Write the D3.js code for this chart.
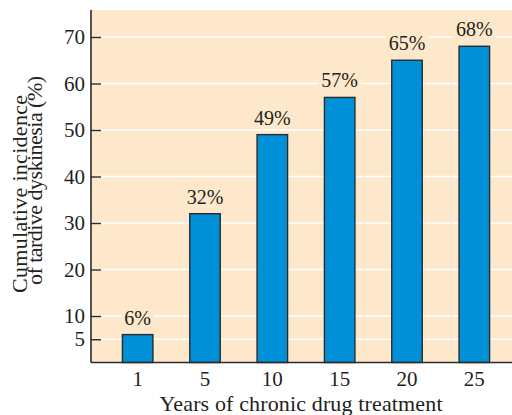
<!DOCTYPE html>
<html>
<head>
<meta charset="utf-8">
<script src="https://cdn.jsdelivr.net/npm/d3@7"></script>
<style>
  html, body { margin: 0; padding: 0; background: #ffffff; }
  svg { display: block; }
  text { font-family: "Liberation Serif", "Times New Roman", serif; fill: #231f20; }
</style>
</head>
<body>
<svg id="chart" width="512" height="415"></svg>
<script>
// Years of treatment and cumulative incidence of tardive dyskinesia (%)
const years = ["1", "5", "10", "15", "20", "25"];
const incidence = [6, 32, 49, 57, 65, 68];
const yTicks = [5, 10, 20, 30, 40, 50, 60, 70];
const xTitle = "Years of chronic drug treatment";
const yTitleLines = ["Cumulative incidence", "of tardive dyskinesia (%)"];

const plot = { left: 91, right: 512, top: 10, bottom: 362.5 };
const ink = "#231f20";
const panel = "#fde8cc";

const svg = d3.select("#chart");

const x = d3.scaleBand()
  .domain(years)
  .range([104, 508])
  .paddingInner(0.547)
  .paddingOuter(0.2735);

const y = d3.scaleLinear()
  .domain([0, 75.8])
  .range([plot.bottom, plot.top]);

// panel background
svg.append("rect")
  .attr("x", plot.left).attr("y", plot.top)
  .attr("width", plot.right - plot.left)
  .attr("height", plot.bottom - plot.top)
  .attr("fill", panel);

// white gridlines
svg.append("g").selectAll("line")
  .data(yTicks)
  .join("line")
  .attr("x1", plot.left).attr("x2", plot.right)
  .attr("y1", d => y(d)).attr("y2", d => y(d))
  .attr("stroke", "#ffffff")
  .attr("stroke-width", 1.6);

// bars
svg.append("g").selectAll("rect")
  .data(incidence)
  .join("rect")
  .attr("x", (d, i) => x(years[i]))
  .attr("y", d => y(d))
  .attr("width", x.bandwidth())
  .attr("height", d => y(0) - y(d))
  .attr("fill", "#0090d8")
  .attr("stroke", "#2b2b2b")
  .attr("stroke-width", 1.4);

// value labels, each on a patch of panel colour that hides the gridline
const labels = svg.append("g").selectAll("g")
  .data(incidence)
  .join("g")
  .attr("transform", (d, i) => `translate(${x(years[i]) + x.bandwidth() / 2},${y(d) - 10})`);

labels.append("text")
  .attr("text-anchor", "middle")
  .attr("font-size", 20)
  .text(d => d + "%");

labels.each(function () {
  const g = d3.select(this);
  const bb = g.select("text").node().getBBox();
  g.insert("rect", "text")
    .attr("x", bb.x - 3).attr("y", bb.y)
    .attr("width", bb.width + 6).attr("height", bb.height)
    .attr("fill", panel);
});

// y axis with inward ticks
const yAxis = svg.append("g")
  .attr("transform", `translate(${plot.left},0)`)
  .call(d3.axisLeft(y).tickValues(yTicks).tickSize(-10).tickPadding(6));
yAxis.select(".domain").remove();
yAxis.selectAll(".tick line").attr("stroke", "#2b2b2b").attr("stroke-width", 1.4);
yAxis.selectAll(".tick text")
  .attr("font-family", "Liberation Serif, serif")
  .attr("font-size", 21)
  .attr("fill", ink);

svg.append("line")
  .attr("x1", plot.left).attr("x2", plot.left)
  .attr("y1", plot.top).attr("y2", plot.bottom)
  .attr("stroke", "#2b2b2b").attr("stroke-width", 1.6);

// x axis, labels only
const xAxis = svg.append("g")
  .attr("transform", `translate(0,${plot.bottom})`)
  .call(d3.axisBottom(x).tickSize(0).tickPadding(0));
xAxis.select(".domain").remove();
xAxis.selectAll(".tick text")
  .attr("font-family", "Liberation Serif, serif")
  .attr("font-size", 21)
  .attr("fill", ink)
  .attr("dy", null)
  .attr("y", 23.5);

svg.append("line")
  .attr("x1", plot.left).attr("x2", plot.right)
  .attr("y1", plot.bottom).attr("y2", plot.bottom)
  .attr("stroke", "#2b2b2b").attr("stroke-width", 1.6);

// x axis title
svg.append("text")
  .attr("x", 301 - 283 / 2).attr("y", 411)
  .attr("font-size", 22)
  .attr("textLength", 283)
  .attr("lengthAdjust", "spacing")
  .text(xTitle);

// y axis title, two rotated lines
const yTitle = [
  { text: yTitleLines[0], center: 194, base: 26.7, len: 198 },
  { text: yTitleLines[1], center: 180.5, base: 42, len: 209 }
];
svg.append("g")
  .attr("transform", "rotate(-90)")
  .selectAll("text")
  .data(yTitle)
  .join("text")
  .attr("x", d => -(d.center + d.len / 2))
  .attr("y", d => d.base)
  .attr("font-size", 22)
  .attr("textLength", d => d.len)
  .attr("lengthAdjust", "spacing")
  .text(d => d.text);
</script>
</body>
</html>
